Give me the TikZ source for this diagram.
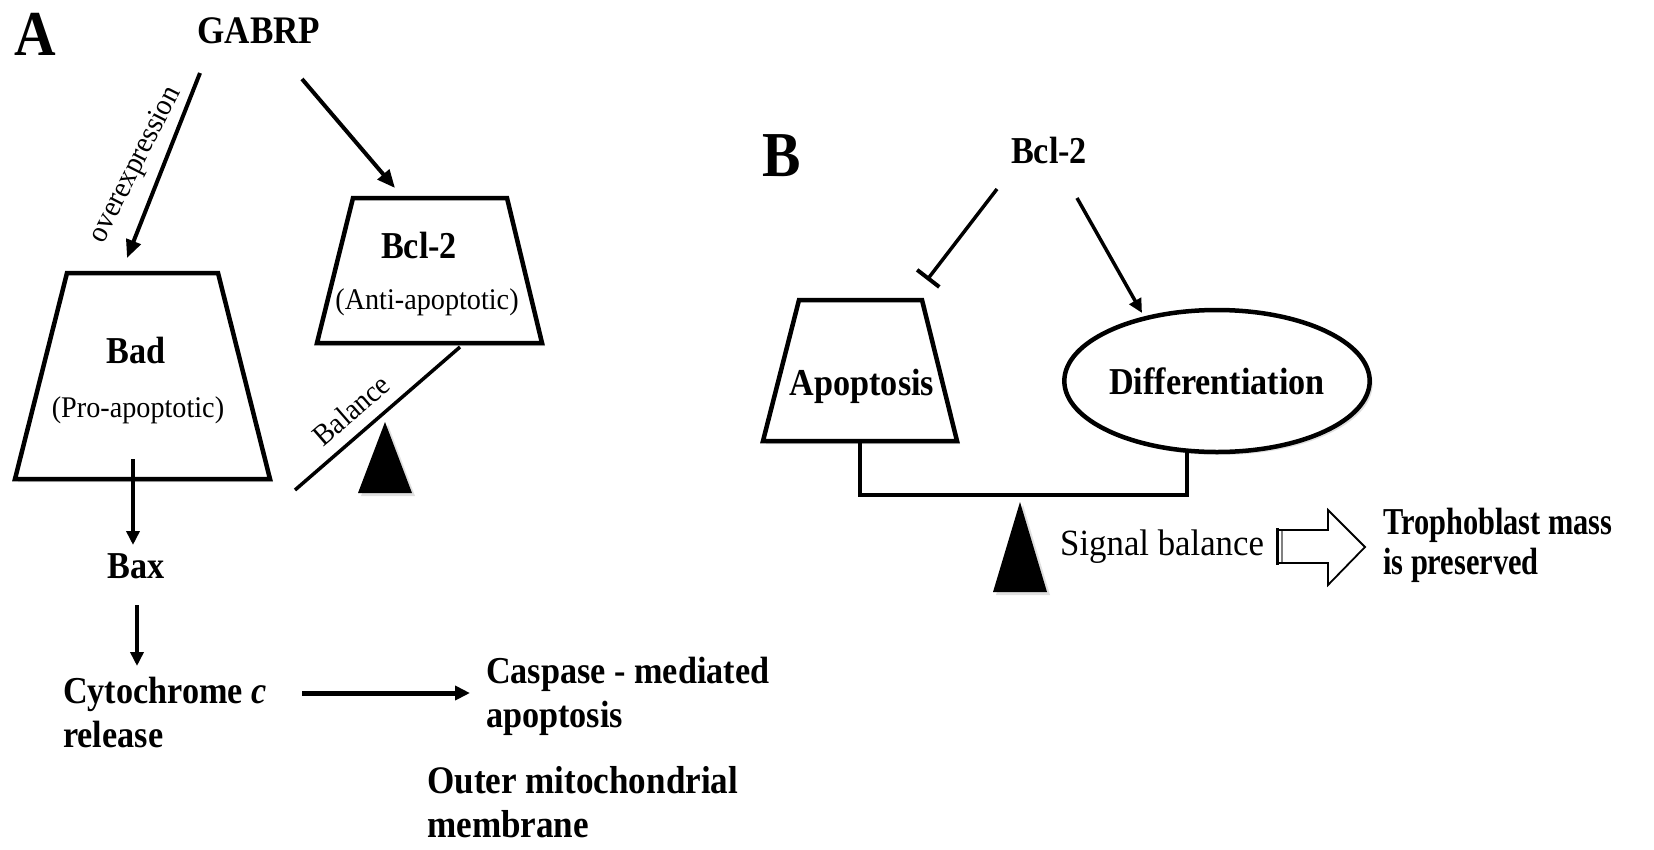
\documentclass[tikz,border=0pt]{standalone}
\usepackage{fontspec}
\setmainfont{Liberation Serif}[FakeStretch=0.9]
\newfontfamily\regfont{Liberation Serif}[FakeStretch=0.94]
\newfontfamily\condfont{Liberation Serif}[FakeStretch=0.8]
\usetikzlibrary{arrows.meta,shadows,shapes.geometric}
\begin{document}
\begin{tikzpicture}[x=1pt,y=-1pt,
  bt/.style={font=\fontsize{38}{44}\selectfont\bfseries, inner sep=0pt, align=left},
  rt/.style={font=\regfont\fontsize{30}{34}\selectfont, inner sep=0pt},
  panel/.style={font=\fontsize{64}{70}\selectfont\bfseries, inner sep=0pt},
  shd/.style={drop shadow={shadow xshift=3pt, shadow yshift=-3pt, opacity=0.25}},
  box/.style={draw, line width=4.5pt, fill=white, line join=miter, shd},
  arr/.style={line width=4pt, -{Triangle[length=18pt,width=15pt]}},
  sarr/.style={line width=3.5pt, -{Triangle[length=14pt,width=13pt]}},
  lever/.style={line width=4pt},
]
\path[use as bounding box, fill=white] (0,0) rectangle (1654,849);

% ---------- Panel A ----------
\node[panel, anchor=base west] (pa) at (14,55) {A};
\node[bt, font=\fontsize{39}{44}\selectfont\bfseries, anchor=base] (gabrp) at (259,43) {GABRP};

\coordinate (g1) at (200,73);
\coordinate (badin) at (127,258);
\coordinate (g2) at (302,79);
\coordinate (bclin) at (395,188);
\draw[arr] (g1) -- (badin);
\draw[arr] (g2) -- (bclin);
\node[rt, rotate=63] (oe) at (136,165) {overexpression};

% Bcl-2 box
\draw[box] (353,198) -- (507,198) -- (542,343) -- (317,343) -- cycle;
\node[bt, anchor=base] (bcl) at (419,258) {Bcl-2};
\node[rt, anchor=base] (anti) at (427,309) {(Anti-apoptotic)};

% Balance
\coordinate (b1) at (460,347);
\coordinate (b2) at (295,490);
\draw[line width=3.5pt] (b1) -- (b2);
\node[rt, rotate=41] (bal) at (351,410) {Balance};
\fill[shd] (385,422) -- (412,493) -- (358,493) -- cycle;

% Bad box
\draw[box] (67,273) -- (218,273) -- (270,479) -- (15,479) -- cycle;
\node[bt, anchor=base] (bad) at (136,363) {Bad};
\node[rt, anchor=base] (pro) at (138,417) {(Pro-apoptotic)};

\coordinate (bs) at (133,459);
\coordinate (baxin) at (133,545);
\draw[sarr] (bs) -- (baxin);
\node[bt, anchor=base] (bax) at (136,578) {Bax};

\coordinate (cy1) at (137,605);
\coordinate (cy2) at (137,666);
\draw[sarr] (cy1) -- (cy2);
\node[bt, anchor=base west] (cyt) at (63,747) {Cytochrome \textit{c}\\release};

\coordinate (c1) at (302,693);
\coordinate (c2) at (470,693);
\draw[line width=5pt, -{Triangle[length=15pt,width=14pt]}] (c1) -- (c2);
\node[bt, anchor=base west] (casp) at (486,727) {Caspase - mediated\\apoptosis};
\node[bt, font=\fontsize{39}{44}\selectfont\bfseries, anchor=base west] (outer) at (427,837) {Outer mitochondrial\\membrane};

% ---------- Panel B ----------
\node[panel, anchor=base west] (pb) at (762,176) {B};
\node[bt, anchor=base] (bclb) at (1049,163) {Bcl-2};

\coordinate (i1) at (997,189);
\coordinate (i2) at (927,280);
\draw[line width=3.5pt, -{Bar[width=28pt,line width=4pt]}] (i1) -- (i2);
\coordinate (d1) at (1077,198);
\coordinate (d2) at (1142,313);
\draw[sarr] (d1) -- (d2);

\draw[box] (799,300) -- (922,300) -- (957,441) -- (763,441) -- cycle;
\node[bt, anchor=base] (apo) at (862,395) {Apoptosis};

\node[box, ellipse, bt, minimum width=282pt, minimum height=142pt, inner sep=0pt] (diff) at (1217,381) {Differentiation};

\coordinate (apob) at (860,443);
\coordinate (lv1) at (860,495);
\coordinate (lv2) at (1187,495);
\coordinate (difb) at (1187,450);
\draw[lever, line join=miter] (apob) -- (lv1) -- (lv2) -- (difb);

\fill[shd] (1020,502) -- (1047,592) -- (993,592) -- cycle;

\node[font=\regfont\fontsize{37}{40}\selectfont, inner sep=0pt, anchor=base west] (sig) at (1060,555) {Signal balance};

\draw[line width=1.8pt, fill=white, line join=miter] (1278,530) -- (1328,530) -- (1328,510) -- (1365,547) -- (1328,585) -- (1328,563) -- (1278,563) -- cycle;
\draw[line width=3pt] (1277,528) -- (1277,565);
\draw[gray, line width=2pt] (1282,531) -- (1282,562);

\node[bt, font=\condfont\fontsize{38}{40}\selectfont\bfseries, anchor=base west] (tro) at (1383,574) {Trophoblast mass\\is preserved};
\end{tikzpicture}
\end{document}
